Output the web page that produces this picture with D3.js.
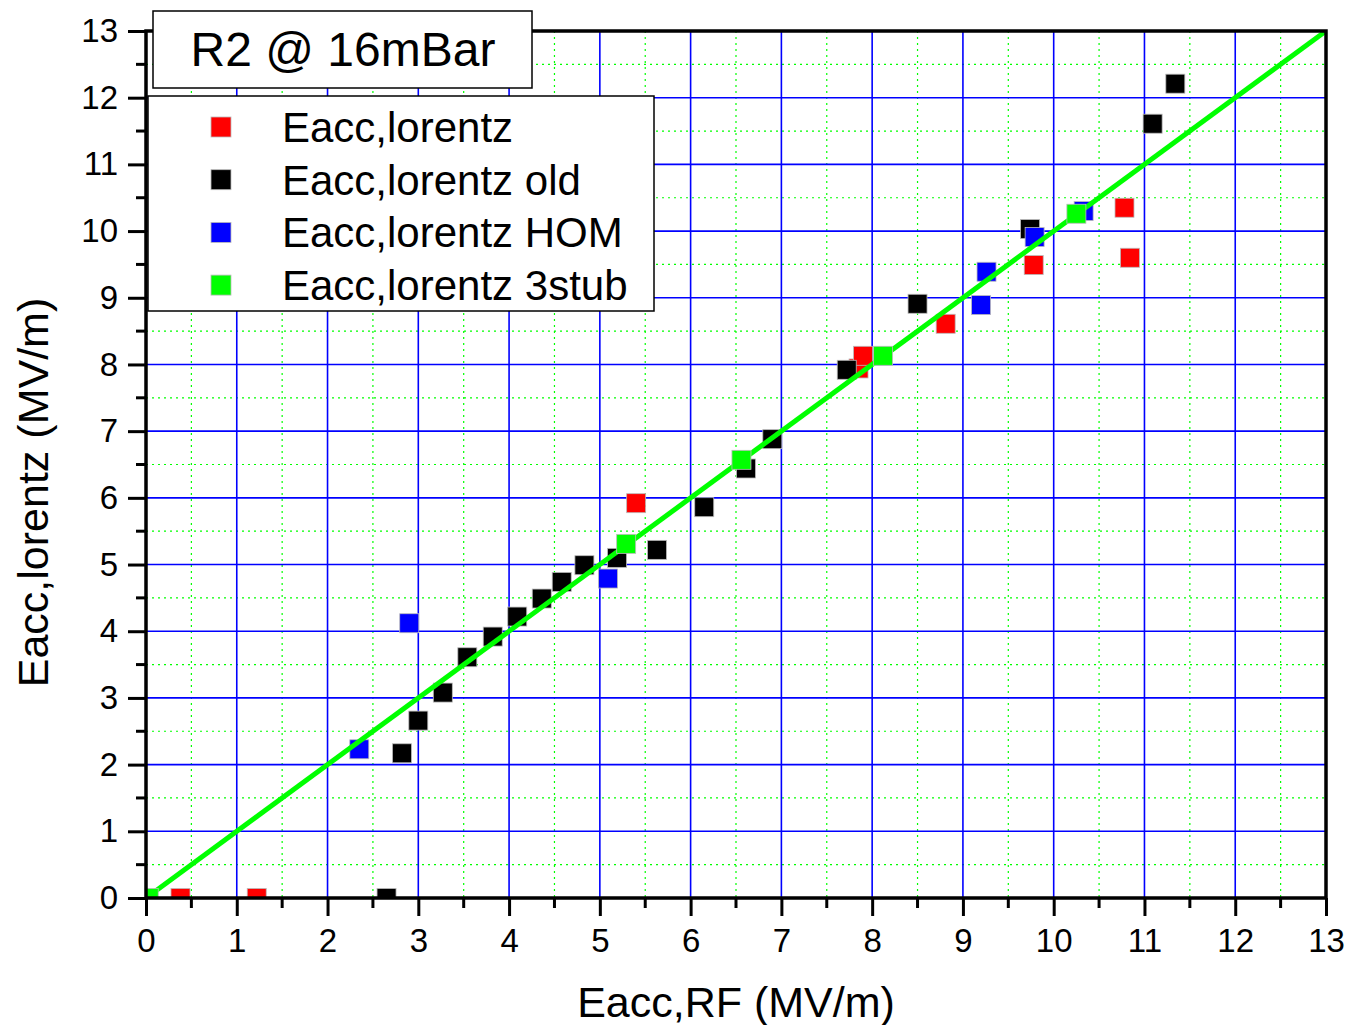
<!DOCTYPE html>
<html>
<head>
<meta charset="utf-8">
<script src="https://cdn.jsdelivr.net/npm/d3@7/dist/d3.min.js"></script>
<style>
  body { margin: 0; background: #fff; }
  text { font-family: "Liberation Sans", Arial, sans-serif; fill: #000; }
</style>
</head>
<body>
<div id="chart"></div>
<script>
// series data: [Eacc,RF, Eacc,lorentz]
var redPts = [[0.38, 0], [1.22, 0], [5.40, 5.92], [7.85, 7.94], [7.90, 8.13], [8.81, 8.61],
              [9.78, 9.49], [10.78, 10.35], [10.84, 9.60]];
var blackPts = [[2.65, 0], [2.82, 2.17], [3.00, 2.66], [3.27, 3.08], [3.54, 3.61], [3.82, 3.92],
                [4.09, 4.22], [4.36, 4.49], [4.58, 4.74], [4.83, 4.99], [5.19, 5.10], [5.63, 5.22],
                [6.15, 5.86], [6.61, 6.44], [6.90, 6.88], [7.72, 7.92], [8.50, 8.91],
                [9.74, 10.03], [11.09, 11.61], [11.34, 12.21]];
var bluePts = [[2.35, 2.23], [2.90, 4.12], [5.09, 4.79], [9.20, 8.89], [9.26, 9.39],
               [9.79, 9.91], [10.33, 10.30]];
var greenPts = [[0.03, 0], [5.29, 5.31], [6.56, 6.57], [8.12, 8.13], [10.25, 10.26]];
var fitLine = [[0, 0], [13, 13]];
var seriesNames = ["Eacc,lorentz", "Eacc,lorentz old", "Eacc,lorentz HOM", "Eacc,lorentz 3stub"];
var seriesColors = ["#ff0000", "#000000", "#0000ff", "#00ff00"];
var majorTicks = d3.range(0, 14);
var minorTicks = d3.range(0.5, 13, 1);

var W = 1347, H = 1025;
var pLeft = 146, pRight = 1326, pTop = 31, pBottom = 898;

var svg = d3.select("#chart").append("svg")
    .attr("width", W).attr("height", H);

var x = d3.scaleLinear().domain([0, 13]).range([pLeft, pRight]);
var y = d3.scaleLinear().domain([0, 13]).range([pBottom, pTop]);

svg.append("defs").append("clipPath").attr("id", "plotclip")
  .append("rect").attr("x", pLeft).attr("y", pTop)
  .attr("width", pRight - pLeft).attr("height", pBottom - pTop);

// minor grid (green dotted)
var grid = svg.append("g");
grid.selectAll(".mvx").data(minorTicks).enter().append("line")
    .attr("x1", d => x(d)).attr("x2", d => x(d)).attr("y1", pTop).attr("y2", pBottom)
    .attr("stroke", "#00ff00").attr("stroke-width", 1.2).attr("stroke-dasharray", "2,4");
grid.selectAll(".mhy").data(minorTicks).enter().append("line")
    .attr("y1", d => y(d)).attr("y2", d => y(d)).attr("x1", pLeft).attr("x2", pRight)
    .attr("stroke", "#00ff00").attr("stroke-width", 1.2).attr("stroke-dasharray", "2,4");
// major grid (blue)
grid.selectAll(".gvx").data(majorTicks.slice(1, 13)).enter().append("line")
    .attr("x1", d => x(d)).attr("x2", d => x(d)).attr("y1", pTop).attr("y2", pBottom)
    .attr("stroke", "#0000ff").attr("stroke-width", 1.6);
grid.selectAll(".ghy").data(majorTicks.slice(1, 13)).enter().append("line")
    .attr("y1", d => y(d)).attr("y2", d => y(d)).attr("x1", pLeft).attr("x2", pRight)
    .attr("stroke", "#0000ff").attr("stroke-width", 1.6);

var plot = svg.append("g").attr("clip-path", "url(#plotclip)");
var sq = 19;

function drawSeries(pts, color) {
  plot.append("g").selectAll("rect").data(pts).enter().append("rect")
      .attr("x", d => x(d[0]) - sq / 2).attr("y", d => y(d[1]) - sq / 2)
      .attr("width", sq).attr("height", sq)
      .attr("fill", color).attr("stroke", "#bbb").attr("stroke-width", 0.8);
}
drawSeries(redPts, seriesColors[0]);
drawSeries(blackPts, seriesColors[1]);
drawSeries(bluePts, seriesColors[2]);

plot.append("path").datum(fitLine)
    .attr("d", d3.line().x(d => x(d[0])).y(d => y(d[1])))
    .attr("stroke", "#00ff00").attr("stroke-width", 5).attr("fill", "none");

drawSeries(greenPts, seriesColors[3]);

// axes
var xAxis = d3.axisBottom(x).tickValues(majorTicks).tickSize(18).tickPadding(8);
var yAxis = d3.axisLeft(y).tickValues(majorTicks).tickSize(18).tickPadding(8);

var gx = svg.append("g").attr("transform", "translate(0," + pBottom + ")").call(xAxis);
var gy = svg.append("g").attr("transform", "translate(" + pLeft + ",0)").call(yAxis);
[gx, gy].forEach(function (g) {
  g.select(".domain").remove();
  g.selectAll(".tick line").attr("stroke", "#000").attr("stroke-width", 3);
  g.selectAll(".tick text").style("font-size", "33px")
    .style("font-family", "'Liberation Sans', Arial, sans-serif");
});
gx.selectAll(".tick text").attr("dy", "0.85em");
gy.selectAll(".tick text").attr("dx", "-2px");

svg.append("g").selectAll("line").data(minorTicks).enter().append("line")
    .attr("x1", d => x(d)).attr("x2", d => x(d)).attr("y1", pBottom).attr("y2", pBottom + 10)
    .attr("stroke", "#000").attr("stroke-width", 3);
svg.append("g").selectAll("line").data(minorTicks).enter().append("line")
    .attr("y1", d => y(d)).attr("y2", d => y(d)).attr("x1", pLeft).attr("x2", pLeft - 10)
    .attr("stroke", "#000").attr("stroke-width", 3);

// frame
svg.append("rect").attr("x", pLeft).attr("y", pTop)
    .attr("width", pRight - pLeft).attr("height", pBottom - pTop)
    .attr("fill", "none").attr("stroke", "#000").attr("stroke-width", 3.5);

// axis titles
svg.append("text").attr("x", (pLeft + pRight) / 2).attr("y", 1017)
    .attr("text-anchor", "middle").style("font-size", "43px").text("Eacc,RF (MV/m)");
svg.append("text").attr("transform", "translate(48," + ((pTop + pBottom) / 2 + 28) + ") rotate(-90)")
    .attr("text-anchor", "middle").style("font-size", "43px").text("Eacc,lorentz (MV/m)");

// title box
svg.append("rect").attr("x", 153).attr("y", 11).attr("width", 379).attr("height", 77)
    .attr("fill", "#fff").attr("stroke", "#000").attr("stroke-width", 1.5);
svg.append("text").attr("x", 343).attr("y", 66).attr("text-anchor", "middle")
    .style("font-size", "48px").text("R2 @ 16mBar");

// legend
var legend = svg.append("g");
legend.append("rect").attr("x", 148).attr("y", 96).attr("width", 506).attr("height", 215)
    .attr("fill", "#fff").attr("stroke", "#000").attr("stroke-width", 1.5);
var rows = legend.selectAll(".row").data(seriesNames).enter().append("g")
    .attr("transform", (d, i) => "translate(0," + (127 + i * 52.7) + ")");
rows.append("rect").attr("x", 211).attr("y", -10).attr("width", 20).attr("height", 20)
    .attr("fill", (d, i) => seriesColors[i]).attr("stroke", "#bbb").attr("stroke-width", 0.8);
rows.append("text").attr("x", 282).attr("y", 15).style("font-size", "42px").text(d => d);
</script>
</body>
</html>
